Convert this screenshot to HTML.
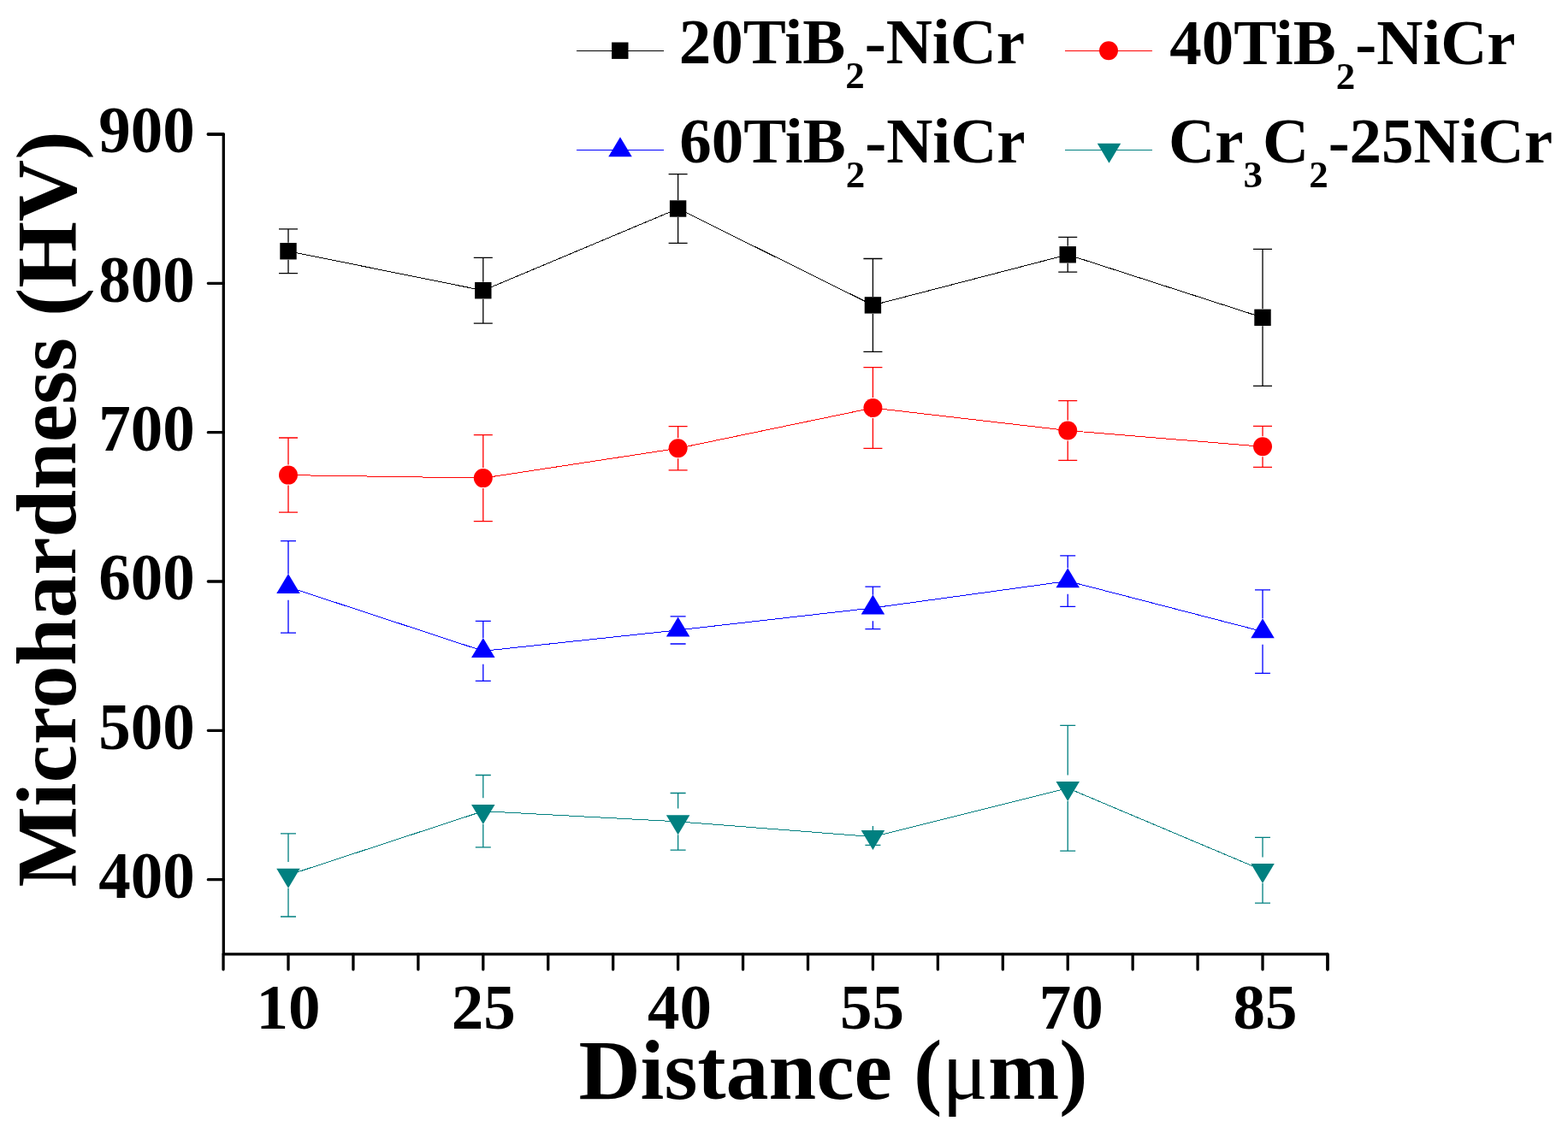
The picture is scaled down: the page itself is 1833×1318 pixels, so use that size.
<!DOCTYPE html>
<html><head><meta charset="utf-8"><style>
html,body{margin:0;padding:0;background:#fff;}
svg{display:block;}
text{font-family:"Liberation Serif","Times New Roman",serif;font-weight:bold;fill:#000;}
.tk{font-size:75px;}
.ttl{font-size:100px;}
.lg{font-size:75px;}
.sb{font-size:45px;}
</style></head><body>
<svg width="1833" height="1318" viewBox="0 0 1833 1318">
<rect width="1833" height="1318" fill="#fff"/>
<path d="M243.30,157.00H261.30V1115.80H1551.96V1133.80" fill="none" stroke="#000" stroke-width="3.3" stroke-linejoin="round" stroke-linecap="round"/>
<path d="M261.06,1115.80V1133.80M337.00,1115.80V1133.80M412.94,1115.80V1133.80M488.87,1115.80V1133.80M564.80,1115.80V1133.80M640.74,1115.80V1133.80M716.67,1115.80V1133.80M792.61,1115.80V1133.80M868.54,1115.80V1133.80M944.48,1115.80V1133.80M1020.41,1115.80V1133.80M1096.35,1115.80V1133.80M1172.28,1115.80V1133.80M1248.22,1115.80V1133.80M1324.15,1115.80V1133.80M1400.09,1115.80V1133.80M1476.02,1115.80V1133.80M1551.96,1115.80V1133.80M261.30,1028.70H243.30M261.30,854.36H243.30M261.30,680.02H243.30M261.30,505.68H243.30M261.30,331.34H243.30M261.30,157.00H243.30" fill="none" stroke="#000" stroke-width="3.3" stroke-linecap="round"/>
<text transform="translate(227.8,1050.10) scale(1,1.04)" text-anchor="end" class="tk">400</text>
<text transform="translate(227.8,875.76) scale(1,1.04)" text-anchor="end" class="tk">500</text>
<text transform="translate(227.8,701.42) scale(1,1.04)" text-anchor="end" class="tk">600</text>
<text transform="translate(227.8,527.08) scale(1,1.04)" text-anchor="end" class="tk">700</text>
<text transform="translate(227.8,352.74) scale(1,1.04)" text-anchor="end" class="tk">800</text>
<text transform="translate(227.8,178.40) scale(1,1.04)" text-anchor="end" class="tk">900</text>
<text x="337.00" y="1202.5" text-anchor="middle" class="tk">10</text>
<text x="565.30" y="1202.5" text-anchor="middle" class="tk">25</text>
<text x="794.61" y="1202.5" text-anchor="middle" class="tk">40</text>
<text x="1019.41" y="1202.5" text-anchor="middle" class="tk">55</text>
<text x="1252.22" y="1202.5" text-anchor="middle" class="tk">70</text>
<text x="1479.02" y="1202.5" text-anchor="middle" class="tk">85</text>
<text x="0" y="0" transform="translate(88.4,1037.6) rotate(-90)" class="ttl">Microhardness (HV)</text>
<text x="676.4" y="1285" class="ttl">Distance (<tspan style="font-weight:normal">μ</tspan>m)</text>
<polyline points="337.00,293.75 564.80,339.70 792.61,244.00 1020.41,356.90 1248.22,297.80 1476.02,371.35" fill="none" stroke="#000000" stroke-width="1" shape-rendering="crispEdges"/>
<path d="M326.00,267.90H348.00M326.00,319.60H348.00M337.00,267.90V283.75M337.00,303.75V319.60" fill="none" stroke="#000000" stroke-width="1.3"/>
<path d="M553.80,301.30H575.80M553.80,378.10H575.80M564.80,301.30V329.70M564.80,349.70V378.10" fill="none" stroke="#000000" stroke-width="1.3"/>
<path d="M781.61,203.70H803.61M781.61,284.30H803.61M792.61,203.70V234.00M792.61,254.00V284.30" fill="none" stroke="#000000" stroke-width="1.3"/>
<path d="M1009.41,302.50H1031.41M1009.41,411.30H1031.41M1020.41,302.50V346.90M1020.41,366.90V411.30" fill="none" stroke="#000000" stroke-width="1.3"/>
<path d="M1237.22,277.40H1259.22M1237.22,318.20H1259.22M1248.22,277.40V287.80M1248.22,307.80V318.20" fill="none" stroke="#000000" stroke-width="1.3"/>
<path d="M1465.02,291.30H1487.02M1465.02,451.40H1487.02M1476.02,291.30V361.35M1476.02,381.35V451.40" fill="none" stroke="#000000" stroke-width="1.3"/>
<rect x="327.30" y="284.05" width="19.4" height="19.4" fill="#000000"/>
<rect x="555.10" y="330.00" width="19.4" height="19.4" fill="#000000"/>
<rect x="782.91" y="234.30" width="19.4" height="19.4" fill="#000000"/>
<rect x="1010.71" y="347.20" width="19.4" height="19.4" fill="#000000"/>
<rect x="1238.52" y="288.10" width="19.4" height="19.4" fill="#000000"/>
<rect x="1466.32" y="361.65" width="19.4" height="19.4" fill="#000000"/>
<polyline points="337.00,555.60 564.80,559.10 792.61,524.30 1020.41,477.05 1248.22,503.50 1476.02,522.30" fill="none" stroke="#ff0000" stroke-width="1" shape-rendering="crispEdges"/>
<path d="M326.00,512.00H348.00M326.00,599.20H348.00M337.00,512.00V543.60M337.00,567.60V599.20" fill="none" stroke="#ff0000" stroke-width="1.3"/>
<path d="M553.80,508.60H575.80M553.80,609.60H575.80M564.80,508.60V547.10M564.80,571.10V609.60" fill="none" stroke="#ff0000" stroke-width="1.3"/>
<path d="M781.61,498.65H803.61M781.61,549.95H803.61M792.61,498.65V512.30M792.61,536.30V549.95" fill="none" stroke="#ff0000" stroke-width="1.3"/>
<path d="M1009.41,429.70H1031.41M1009.41,524.40H1031.41M1020.41,429.70V465.05M1020.41,489.05V524.40" fill="none" stroke="#ff0000" stroke-width="1.3"/>
<path d="M1237.22,468.60H1259.22M1237.22,538.40H1259.22M1248.22,468.60V491.50M1248.22,515.50V538.40" fill="none" stroke="#ff0000" stroke-width="1.3"/>
<path d="M1465.02,498.30H1487.02M1465.02,546.30H1487.02M1476.02,498.30V510.30M1476.02,534.30V546.30" fill="none" stroke="#ff0000" stroke-width="1.3"/>
<circle cx="337.00" cy="555.60" r="11.0" fill="#ff0000"/>
<circle cx="564.80" cy="559.10" r="11.0" fill="#ff0000"/>
<circle cx="792.61" cy="524.30" r="11.0" fill="#ff0000"/>
<circle cx="1020.41" cy="477.05" r="11.0" fill="#ff0000"/>
<circle cx="1248.22" cy="503.50" r="11.0" fill="#ff0000"/>
<circle cx="1476.02" cy="522.30" r="11.0" fill="#ff0000"/>
<polyline points="337.00,686.45 564.80,761.35 792.61,736.90 1020.41,710.95 1248.22,679.55 1476.02,738.55" fill="none" stroke="#0000ff" stroke-width="1" shape-rendering="crispEdges"/>
<path d="M328.00,632.70H346.00M328.00,740.20H346.00M337.00,632.70V671.15M337.00,701.75V740.20" fill="none" stroke="#0000ff" stroke-width="1.3"/>
<path d="M555.80,726.40H573.80M555.80,796.30H573.80M564.80,726.40V746.05M564.80,776.65V796.30" fill="none" stroke="#0000ff" stroke-width="1.3"/>
<path d="M783.61,720.80H801.61M783.61,753.00H801.61M792.61,720.80V721.60M792.61,752.20V753.00" fill="none" stroke="#0000ff" stroke-width="1.3"/>
<path d="M1011.41,686.20H1029.41M1011.41,735.70H1029.41M1020.41,686.20V695.65M1020.41,726.25V735.70" fill="none" stroke="#0000ff" stroke-width="1.3"/>
<path d="M1239.22,649.80H1257.22M1239.22,709.30H1257.22M1248.22,649.80V664.25M1248.22,694.85V709.30" fill="none" stroke="#0000ff" stroke-width="1.3"/>
<path d="M1467.02,689.80H1485.02M1467.02,787.30H1485.02M1476.02,689.80V723.25M1476.02,753.85V787.30" fill="none" stroke="#0000ff" stroke-width="1.3"/>
<polygon points="337.00,671.12 350.75,694.12 323.25,694.12" fill="#0000ff"/>
<polygon points="564.80,746.02 578.55,769.02 551.05,769.02" fill="#0000ff"/>
<polygon points="792.61,721.57 806.36,744.57 778.86,744.57" fill="#0000ff"/>
<polygon points="1020.41,695.62 1034.16,718.62 1006.66,718.62" fill="#0000ff"/>
<polygon points="1248.22,664.22 1261.97,687.22 1234.47,687.22" fill="#0000ff"/>
<polygon points="1476.02,723.22 1489.77,746.22 1462.27,746.22" fill="#0000ff"/>
<polyline points="337.00,1023.40 564.80,948.65 792.61,960.85 1020.41,978.60 1248.22,921.70 1476.02,1017.75" fill="none" stroke="#008080" stroke-width="1" shape-rendering="crispEdges"/>
<path d="M328.00,974.80H346.00M328.00,1072.00H346.00M337.00,974.80V1008.10M337.00,1038.70V1072.00" fill="none" stroke="#008080" stroke-width="1.3"/>
<path d="M555.80,906.50H573.80M555.80,990.80H573.80M564.80,906.50V933.35M564.80,963.95V990.80" fill="none" stroke="#008080" stroke-width="1.3"/>
<path d="M783.61,927.50H801.61M783.61,994.20H801.61M792.61,927.50V945.55M792.61,976.15V994.20" fill="none" stroke="#008080" stroke-width="1.3"/>
<path d="M1020.41,966.10V971.30M1011.41,988.40H1029.41" fill="none" stroke="#008080" stroke-width="1.3"/>
<path d="M1239.22,848.30H1257.22M1239.22,995.10H1257.22M1248.22,848.30V906.40M1248.22,937.00V995.10" fill="none" stroke="#008080" stroke-width="1.3"/>
<path d="M1467.02,979.40H1485.02M1467.02,1056.10H1485.02M1476.02,979.40V1002.45M1476.02,1033.05V1056.10" fill="none" stroke="#008080" stroke-width="1.3"/>
<polygon points="337.00,1038.73 350.75,1015.73 323.25,1015.73" fill="#008080"/>
<polygon points="564.80,963.98 578.55,940.98 551.05,940.98" fill="#008080"/>
<polygon points="792.61,976.18 806.36,953.18 778.86,953.18" fill="#008080"/>
<polygon points="1020.41,993.93 1034.16,970.93 1006.66,970.93" fill="#008080"/>
<polygon points="1248.22,937.03 1261.97,914.03 1234.47,914.03" fill="#008080"/>
<polygon points="1476.02,1033.08 1489.77,1010.08 1462.27,1010.08" fill="#008080"/>
<path d="M674,59.2H775.7" stroke="#000" stroke-width="1" shape-rendering="crispEdges"/><rect x="715.10" y="49.50" width="19.4" height="19.4" fill="#000"/>
<path d="M1244.8,59.2H1346.8" stroke="#ff0000" stroke-width="1" shape-rendering="crispEdges"/><circle cx="1296.00" cy="59.20" r="11.0" fill="#ff0000"/>
<path d="M674,175.7H775.7" stroke="#0000ff" stroke-width="1" shape-rendering="crispEdges"/><polygon points="725.00,160.37 738.75,183.37 711.25,183.37" fill="#0000ff"/>
<path d="M1244.8,175.3H1346.8" stroke="#008080" stroke-width="1" shape-rendering="crispEdges"/><polygon points="1296.50,190.63 1310.25,167.63 1282.75,167.63" fill="#008080"/>
<text x="793.7" y="74.3" class="lg">20TiB<tspan class="sb" dy="29">2</tspan><tspan dy="-29">-NiCr</tspan></text>
<text x="1367.2" y="74.8" class="lg">40TiB<tspan class="sb" dy="29">2</tspan><tspan dy="-29">-NiCr</tspan></text>
<text x="794.2" y="189.7" class="lg">60TiB<tspan class="sb" dy="29">2</tspan><tspan dy="-29">-NiCr</tspan></text>
<text x="1366" y="190.1" class="lg">Cr<tspan class="sb" dy="29">3</tspan><tspan dy="-29">C</tspan><tspan class="sb" dy="29">2</tspan><tspan dy="-29">-25NiCr</tspan></text>
</svg>
</body></html>
